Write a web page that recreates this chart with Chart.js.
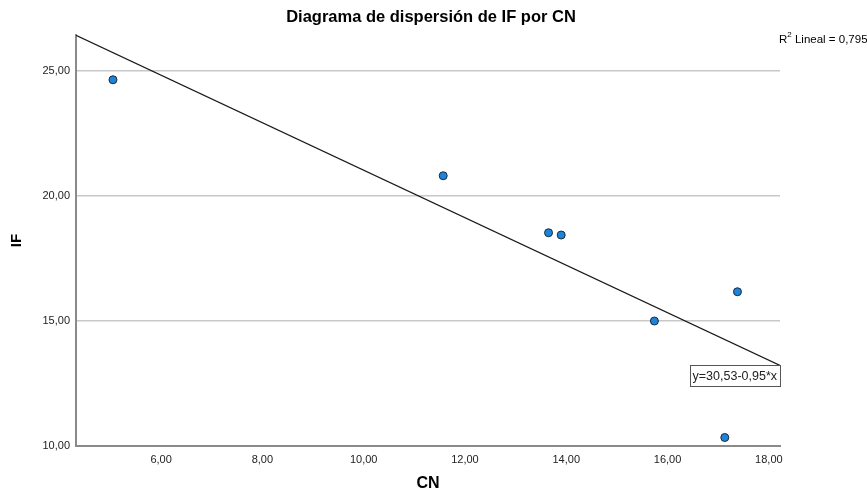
<!DOCTYPE html>
<html lang="es">
<head>
  <meta charset="UTF-8">
  <title>Diagrama de dispersión de IF por CN</title>
  <script src="https://cdn.jsdelivr.net/npm/chart.js"></script>
  <style>
    body {
      margin: 0;
      padding: 0;
      background: #ffffff;
    }
    #wrap {
      width: 867px;
      height: 497px;
      position: relative;
    }
  </style>
</head>
<body>
  <div id="wrap">
    <canvas id="scatterChart" width="867" height="497"></canvas>
  </div>

  <script>
    // datos
    const cnValues = [5.05, 11.57, 13.65, 13.90, 15.74, 17.38, 17.13];
    const ifValues = [24.65, 20.81, 18.53, 18.44, 15.00, 16.17, 10.34];

    // recta de ajuste
    const intercept = 30.53;
    const slope = -0.95;
    const r2Text = '0,795';
    const eqText = 'y=30,53-0,95*x';

    // ejes
    const xRange = [4.32, 18.22];
    const yRange = [10, 26.44];
    const xTicks = [6, 8, 10, 12, 14, 16, 18];
    const yTicks = [10, 15, 20, 25];

    const titleText = 'Diagrama de dispersión de IF por CN';
    const fontFamily = '"Liberation Sans", Arial, sans-serif';

    const fmt = v => v.toFixed(2).replace('.', ',');

    const points = cnValues.map((x, i) => ({ x: x, y: ifValues[i] }));
    const fitLine = xRange.map(x => ({ x: x, y: intercept + slope * x }));

    // textos extra: título, R2 y caja de la ecuación
    const annotations = {
      id: 'annotations',
      afterDraw(chart) {
        const ctx = chart.ctx;
        const area = chart.chartArea;
        const xs = chart.scales.x;
        const ys = chart.scales.y;
        ctx.save();

        ctx.fillStyle = '#000';
        ctx.font = 'bold 16.5px ' + fontFamily;
        ctx.textAlign = 'center';
        ctx.textBaseline = 'middle';
        ctx.fillText(titleText, 431, 17);

        // R2 Lineal
        ctx.textAlign = 'left';
        ctx.font = '11.5px ' + fontFamily;
        let tx = area.right - 1;
        ctx.fillText('R', tx, 40);
        tx += ctx.measureText('R').width;
        ctx.font = '8px ' + fontFamily;
        ctx.fillText('2', tx, 35);
        tx += ctx.measureText('2').width;
        ctx.font = '11.5px ' + fontFamily;
        ctx.fillText(' Lineal = ' + r2Text, tx, 40);

        // caja de la ecuación, pegada al final de la recta
        const endX = xs.getPixelForValue(xRange[1]);
        const endY = ys.getPixelForValue(intercept + slope * xRange[1]);
        ctx.font = '12.5px ' + fontFamily;
        const w = ctx.measureText(eqText).width + 6;
        const h = 21;
        ctx.fillStyle = '#fff';
        ctx.fillRect(endX - w, endY, w, h);
        ctx.strokeStyle = '#555';
        ctx.lineWidth = 1;
        ctx.strokeRect(Math.round(endX - w) + 0.5, Math.round(endY) + 0.5, Math.round(w), h);
        ctx.fillStyle = '#222';
        ctx.textAlign = 'center';
        ctx.fillText(eqText, endX - w / 2, endY + h / 2 + 1);

        ctx.restore();
      }
    };

    const ctx = document.getElementById('scatterChart').getContext('2d');
    new Chart(ctx, {
      type: 'scatter',
      data: {
        datasets: [
          {
            label: 'Ajuste lineal',
            type: 'line',
            data: fitLine,
            borderColor: '#1a1a1a',
            borderWidth: 1.3,
            pointRadius: 0,
            fill: false,
            order: 2
          },
          {
            label: 'IF',
            data: points,
            backgroundColor: '#1d84dc',
            borderColor: '#1a2a3a',
            borderWidth: 1,
            pointRadius: 4,
            order: 1
          }
        ]
      },
      options: {
        responsive: false,
        animation: false,
        layout: {
          padding: { top: 35, right: 87, left: 0, bottom: 0 }
        },
        plugins: {
          legend: { display: false },
          title: { display: false },
          tooltip: { enabled: false }
        },
        scales: {
          x: {
            type: 'linear',
            min: xRange[0],
            max: xRange[1],
            afterFit: s => { s.height = 51; },
            afterBuildTicks: s => { s.ticks = xTicks.map(v => ({ value: v })); },
            grid: { display: false, drawTicks: false },
            border: { display: true, color: '#8a8a8a', width: 2 },
            ticks: {
              padding: 7,
              color: '#222',
              font: { family: fontFamily, size: 11 },
              maxRotation: 0,
              callback: v => fmt(v)
            },
            title: {
              display: true,
              text: 'CN',
              color: '#000',
              font: { family: fontFamily, size: 16, weight: 'bold' },
              padding: { top: 0, bottom: 4 },
              align: 'center'
            }
          },
          y: {
            type: 'linear',
            min: yRange[0],
            max: yRange[1],
            afterFit: s => { s.width = 76; },
            afterBuildTicks: s => { s.ticks = yTicks.map(v => ({ value: v })); },
            grid: {
              drawTicks: false,
              color: ctx => ctx.tick && ctx.tick.value === yRange[0] ? 'rgba(0,0,0,0)' : '#c8c8c8',
              lineWidth: 1.5
            },
            border: { display: true, color: '#8a8a8a', width: 2 },
            ticks: {
              padding: 6,
              color: '#222',
              font: { family: fontFamily, size: 11 },
              callback: v => fmt(v)
            },
            title: {
              display: true,
              text: 'IF',
              color: '#000',
              font: { family: fontFamily, size: 15, weight: 'bold' },
              padding: { top: 8, bottom: 0 }
            }
          }
        }
      },
      plugins: [annotations]
    });
  </script>
</body>
</html>
